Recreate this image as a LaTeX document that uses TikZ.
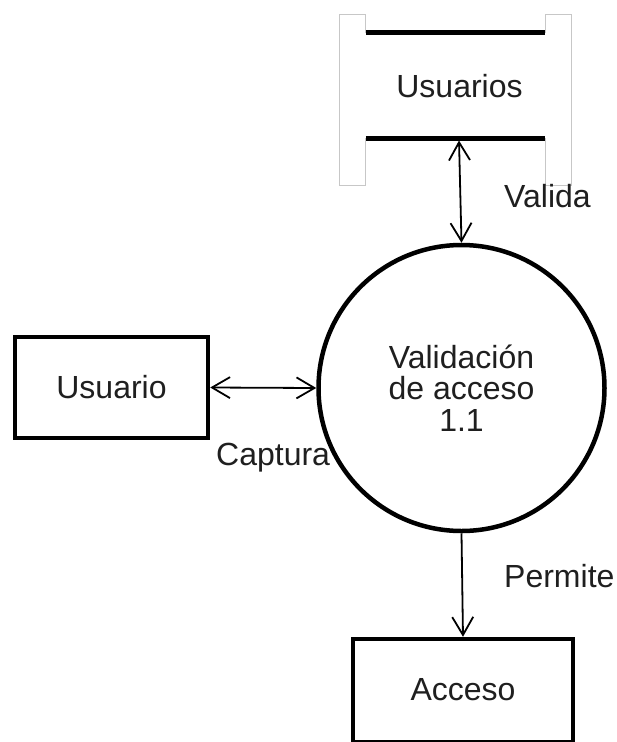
\documentclass[tikz,border=0pt]{standalone}
\usepackage{fontspec}
\setmainfont{Liberation Sans}
\usetikzlibrary{arrows.meta}
\begin{document}
\begin{tikzpicture}[x=1pt,y=-1pt,
  every node/.style={font=\fontsize{32}{31.5}\selectfont, text=black!88},
  entity/.style={draw=black, line width=4.5pt, minimum width=193pt, minimum height=101pt, inner sep=0pt},
  process/.style={draw=black, line width=4.5pt, circle, minimum size=286pt, inner sep=0pt, align=center},
  flow/.style={line width=1.8pt, {Straight Barb[length=18pt,width=21pt]}-{Straight Barb[length=18pt,width=21pt]}},
  flowone/.style={line width=1.8pt, -{Straight Barb[length=18pt,width=21pt]}},
  storebar/.style={line width=5pt, black},
  storeedge/.style={line width=1pt, black!22},
  lbl/.style={anchor=base west, inner sep=0pt}
]
\useasboundingbox (0,0) rectangle (617,742);
\fill[white] (0,0) rectangle (617,742);
\begin{scope}
\clip (0,0) rectangle (617,742);
% data store
\node[minimum width=179pt, minimum height=105pt, inner sep=0pt] (store) at (455.5,85.5) {};
\draw[storeedge] (store.north west) -- ++(0,-18) -- ++(-26,0) -- ++(0,171) -- ++(26,0) -- (store.south west);
\draw[storeedge] (store.north east) -- ++(0,-18) -- ++(26,0) -- ++(0,171) -- ++(-26,0) -- (store.south east);
\draw[storebar] (store.north west) -- (store.north east);
\draw[storebar] (store.south west) -- (store.south east);
\node[inner sep=0pt] (storelabel) at (459.5,86) {Usuarios};
\coordinate (storeport) at (459,140.5);
% process
\node[process] (proc) at (461.5,388) {Validación\\de acceso\\1.1};
% entities
\node[entity] (usuario) at (111.5,387.5) {Usuario};
\node[entity, minimum width=220pt, minimum height=103pt] (acceso) at (463,690.5) {};
\node[inner sep=0pt] (accesolabel) at (463,690) {Acceso};
% flows
\draw[flow] (storeport) -- (proc.north);
\draw[flow] (usuario.east) -- (proc.west);
\draw[flowone] (proc.south) -- (acceso.north);
% labels
\node[lbl] (valida) at (504,207) {Valida};
\node[lbl] (captura) at (216,465) {Captura};
\node[lbl] (permite) at (504,587) {Permite};
\end{scope}
\end{tikzpicture}
\end{document}
